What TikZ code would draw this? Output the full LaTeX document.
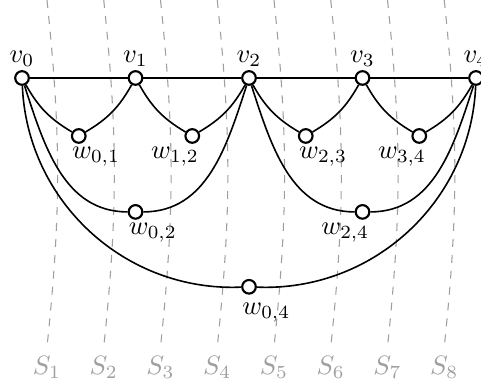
\documentclass[tikz,border=0pt]{standalone}

\begin{document}
\begin{tikzpicture}[x=1.5cm,y=1.5cm,
 every label/.style={inner sep=1pt},
 vtx/.style={circle,draw,thick,fill=white,inner sep=0pt,minimum size=1.8mm},
 wright/.style={label={[xshift=6.5pt]below:#1}},
 wleft/.style={label={[xshift=-6.5pt]below:#1}},
 sepline/.style={gray!75,dashed,thin},
 seplab/.style={gray!75,below}]
 \useasboundingbox (-.194,-2.722) rectangle (4.044,.687);
 % separators
 \draw[sepline] (.22,.687) to[bend left=6] (.22,-2.37) node[seplab] (s1) {$S_1$};
 \draw[sepline] (.72,.687) to[bend left=6] (.72,-2.37) node[seplab] (s2) {$S_2$};
 \draw[sepline] (1.22,.687) to[bend left=6] (1.22,-2.37) node[seplab] (s3) {$S_3$};
 \draw[sepline] (1.72,.687) to[bend left=6] (1.72,-2.37) node[seplab] (s4) {$S_4$};
 \draw[sepline] (2.22,.687) to[bend left=6] (2.22,-2.37) node[seplab] (s5) {$S_5$};
 \draw[sepline] (2.72,.687) to[bend left=6] (2.72,-2.37) node[seplab] (s6) {$S_6$};
 \draw[sepline] (3.22,.687) to[bend left=6] (3.22,-2.37) node[seplab] (s7) {$S_7$};
 \draw[sepline] (3.72,.687) to[bend left=6] (3.72,-2.37) node[seplab] (s8) {$S_8$};
 % vertices
 \node[vtx,label=above:$v_0$] (v0) at (0,0) {};
 \node[vtx,label=above:$v_1$] (v1) at (1,0) {};
 \node[vtx,label=above:$v_2$] (v2) at (2,0) {};
 \node[vtx,label=above:$v_3$] (v3) at (3,0) {};
 \node[vtx,label=above:$v_4$] (v4) at (4,0) {};
 \node[vtx,wright=$w_{0,1}$] (w01) at (.5,-.511) {};
 \node[vtx,wleft=$w_{1,2}$] (w12) at (1.5,-.511) {};
 \node[vtx,wright=$w_{2,3}$] (w23) at (2.5,-.511) {};
 \node[vtx,wleft=$w_{3,4}$] (w34) at (3.5,-.511) {};
 \node[vtx,wright=$w_{0,2}$] (w02) at (1,-1.18) {};
 \node[vtx,wleft=$w_{2,4}$] (w24) at (3,-1.18) {};
 \node[vtx,label={[xshift=6.5pt,yshift=-2pt]below:$w_{0,4}$}] (w04) at (2,-1.84) {};
 % edges
 \draw[semithick] (v0)--(v1)--(v2)--(v3)--(v4);
 \draw[semithick] (v0) to[bend right=15] (w01) (w01) to[bend right=15] (v1)
  (v1) to[bend right=15] (w12) (w12) to[bend right=15] (v2)
  (v2) to[bend right=15] (w23) (w23) to[bend right=15] (v3)
  (v3) to[bend right=15] (w34) (w34) to[bend right=15] (v4);
 \draw[semithick] (v0) to[out=-72,in=180] (w02) (w02) to[out=0,in=-108] (v2)
  (v2) to[out=-72,in=180] (w24) (w24) to[out=0,in=-108] (v4);
 \draw[semithick] (v0) to[bend right=45] (w04) (w04) to[bend right=45] (v4);
\end{tikzpicture}
\end{document}
